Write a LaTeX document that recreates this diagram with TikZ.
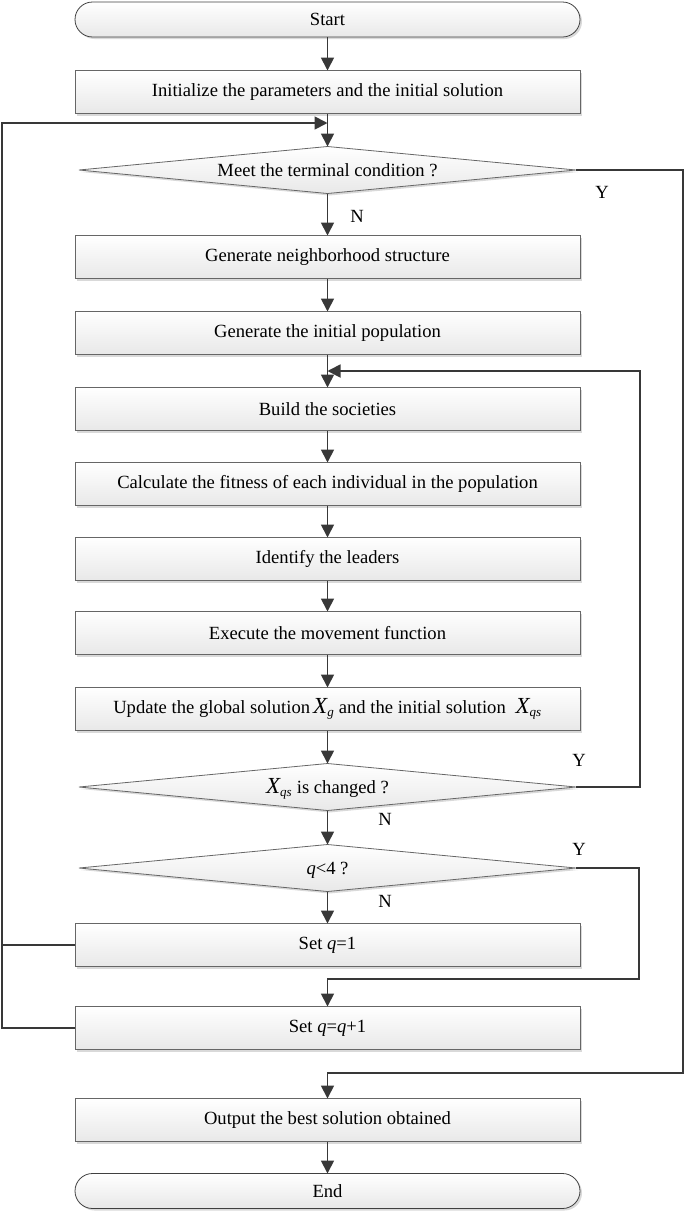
\documentclass[tikz,border=0pt]{standalone}
\usepackage{fontspec}
\setmainfont{Liberation Serif}
\usetikzlibrary{shapes.geometric,arrows.meta,shadows}
\newcommand{\bigX}{{\fontsize{23}{23}\selectfont\itshape X}}
\newcommand{\dtext}[1]{\smash{\raisebox{-0.36em}{\makebox[0pt]{#1}}}}
\begin{document}
\begin{tikzpicture}[x=1pt,y=-1pt,
  font=\fontsize{18.6}{20}\selectfont,
  base/.style={draw=black!60, line width=0.8pt, top color=white, bottom color=black!9,
     drop shadow={shadow xshift=2pt, shadow yshift=-2pt, fill=black!15, opacity=1},
     inner sep=0pt, outer sep=0pt},
  procbox/.style={base, rectangle, minimum width=505pt, minimum height=43pt},
  termbox/.style={base, rectangle, rounded corners=17.5pt, minimum width=505pt, minimum height=35pt, draw=black!75},
  decbox/.style={base, diamond, minimum width=497pt, minimum height=47pt},
  conn/.style={draw=black!78, line width=1.8pt},
  arr/.style={conn, -{Triangle[length=13pt,width=13pt]}},
  lbl/.style={inner sep=0pt}
]
\useasboundingbox (0,0) rectangle (685,1213);
\node[termbox] (start) at (327.5,19.5) {Start};
\node[procbox] (init) at (327.5,92) {Initialize the parameters and the initial solution};
\node[decbox] (d1) at (327.5,170) {\dtext{Meet the terminal condition ?}};
\node[procbox] (gn) at (327.5,257) {Generate neighborhood structure};
\node[procbox] (gp) at (327.5,333) {Generate the initial population};
\node[procbox] (bs) at (327.5,409) {Build the societies};
\node[procbox] (calc) at (327.5,484) {Calculate the fitness of each individual in the population};
\node[procbox] (ident) at (327.5,559) {Identify the leaders};
\node[procbox] (exec) at (327.5,633) {Execute the movement function};
\node[procbox] (upd) at (327.5,709) {Update the global solution\,\bigX\textsubscript{\itshape g} and the initial solution\; \bigX\textsubscript{\itshape qs}};
\node[decbox] (d2) at (327.5,787) {\dtext{\bigX\textsubscript{\itshape qs} is changed ?}};
\node[decbox] (d3) at (327.5,868) {\dtext{\textit{q}<4 ?}};
\node[procbox] (q1) at (327.5,945) {Set \textit{q}=1};
\node[procbox] (qq1) at (327.5,1028) {Set \textit{q}=\textit{q}+1};
\node[procbox] (out) at (327.5,1120) {Output the best solution obtained};
\node[termbox] (end) at (327.5,1191) {End};

\coordinate (lt) at (2,123);
\coordinate (m1) at (327.5,123);
\coordinate (r1) at (683,1073);
\coordinate (r2) at (640,371);
\coordinate (m2) at (327.5,371);
\coordinate (r3) at (639,979);

\draw[arr] (start) -- (init);
\draw[arr] (init) -- (d1);
\draw[arr] (d1) -- (gn);
\draw[arr] (gn) -- (gp);
\draw[arr] (gp) -- (bs);
\draw[arr] (bs) -- (calc);
\draw[arr] (calc) -- (ident);
\draw[arr] (ident) -- (exec);
\draw[arr] (exec) -- (upd);
\draw[arr] (upd) -- (d2);
\draw[arr] (d2) -- (d3);
\draw[arr] (d3) -- (q1);
\draw[arr] (out) -- (end);

\draw[arr] (qq1.west) -| (lt) -- (m1);
\draw[conn] (q1.west) -- (q1.west -| lt);
\draw[arr] (d1.east) -| (r1) -| (out.north);
\draw[arr] (d2.east) -| (r2) -- (m2);
\draw[arr] (d3.east) -| (r3) -| (qq1.north);

\node[lbl] (y1) at (602,192) {Y};
\node[lbl] (n1) at (357,216) {N};
\node[lbl] (y2) at (579,760) {Y};
\node[lbl] (n2) at (385,819) {N};
\node[lbl] (y3) at (579,849) {Y};
\node[lbl] (n3) at (385,901) {N};
\end{tikzpicture}
\end{document}
